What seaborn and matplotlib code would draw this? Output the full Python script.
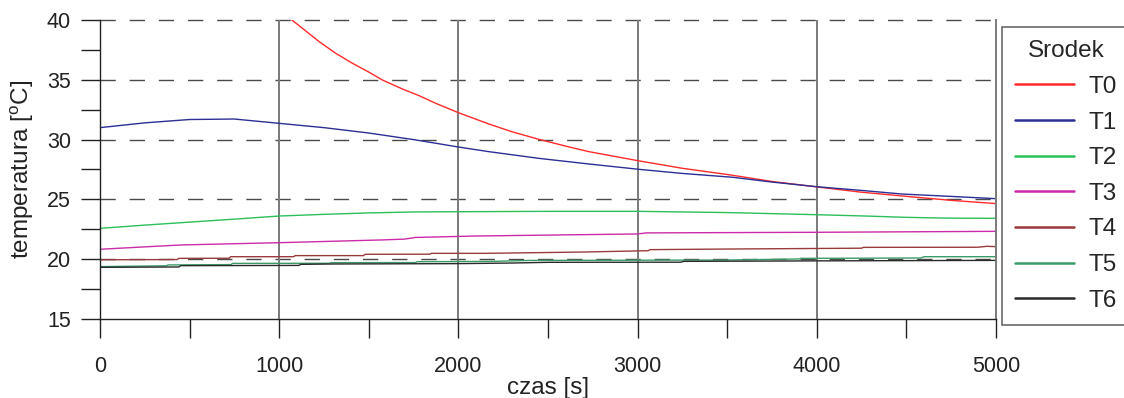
import numpy as np
import pandas as pd
import matplotlib
matplotlib.use("Agg")
import matplotlib.pyplot as plt
from matplotlib.ticker import MultipleLocator
import seaborn as sns

# ---------------- data ----------------
t0_time = [1000, 1071, 1130, 1223, 1316, 1409, 1502, 1576, 1688, 1781, 1874, 2000, 2171, 2300, 2450,
           2600, 2729, 2870, 3004, 3250, 3520, 3750, 4020, 4250, 4518, 4750, 5000]
t0_vals = [40.9, 40.0, 39.3, 38.19, 37.21, 36.38, 35.63, 34.98, 34.23, 33.67, 33.03, 32.25, 31.3, 30.65, 30.02,
           29.45, 28.99, 28.6, 28.23, 27.6, 27.04, 26.5, 26.01, 25.6, 25.23, 24.92, 24.65]

t1_time = [0, 250, 500, 750, 1000, 1250, 1500, 1750, 1892, 2000, 2171, 2450, 2729, 3004, 3250, 3531, 3750,
           4000, 4250, 4475, 4750, 5000]
t1_vals = [31.0, 31.4, 31.68, 31.72, 31.36, 31.0, 30.55, 30.0, 29.65, 29.38, 28.99, 28.43, 27.96, 27.52,
           27.17, 26.85, 26.45, 26.06, 25.75, 25.45, 25.25, 25.06]

t2_time = [0, 250, 500, 750, 1000, 1250, 1500, 1750, 2000, 2500, 3000, 3500, 4000, 4250, 4500, 4750, 5000]
t2_vals = [22.58, 22.85, 23.1, 23.35, 23.61, 23.75, 23.87, 23.95, 23.97, 24.0, 24.0, 23.9, 23.72, 23.62,
           23.5, 23.43, 23.42]

t3_time = [0, 450, 1000, 1570, 1700, 1760, 2100, 3000, 3050, 4000, 5000]
t3_vals = [20.83, 21.19, 21.38, 21.61, 21.68, 21.82, 21.94, 22.11, 22.2, 22.25, 22.33]

t4_time = [0, 430, 440, 720, 730, 1080, 1090, 1470, 1480, 1840, 1850, 2150, 2700, 3060, 3070, 3500,
           4250, 4260, 4900, 4950, 5000]
t4_vals = [19.95, 19.97, 20.07, 20.08, 20.21, 20.21, 20.30, 20.30, 20.41, 20.42, 20.49, 20.49, 20.6,
           20.71, 20.8, 20.85, 20.92, 20.99, 21.0, 21.08, 21.05]

t5_time = [0, 370, 380, 730, 740, 1280, 1290, 1760, 1770, 2200, 2400, 3500, 3900, 3910, 4580, 4600, 5000]
t5_vals = [19.38, 19.45, 19.52, 19.55, 19.65, 19.66, 19.71, 19.72, 19.79, 19.82, 19.9, 19.93, 20.02,
           20.07, 20.1, 20.21, 20.21]

t6_time = [0, 440, 450, 1110, 1120, 1300, 2000, 2300, 2500, 3240, 3260, 4000, 4500, 5000]
t6_vals = [19.32, 19.35, 19.46, 19.48, 19.57, 19.6, 19.63, 19.68, 19.74, 19.75, 19.82, 19.86, 19.88, 19.9]

series_names = ["T0", "T1", "T2", "T3", "T4", "T5", "T6"]
series_colors = ["#ff2a2a", "#2b2f96", "#2cbf5a", "#cc2aaa", "#9a3a3a", "#3a9a68", "#2a2a2a"]

legend_title = "Srodek"
x_label = "czas [s]"
y_label = "temperatura [$^{\\mathrm{o}}$C]"

# ---------------- build long table ----------------
times = [t0_time, t1_time, t2_time, t3_time, t4_time, t5_time, t6_time]
vals = [t0_vals, t1_vals, t2_vals, t3_vals, t4_vals, t5_vals, t6_vals]
frames = []
for name, tt, vv in zip(series_names, times, vals):
    frames.append(pd.DataFrame({"czas": tt, "temp": vv, "seria": name}))
df = pd.concat(frames, ignore_index=True)

# ---------------- style ----------------
sns.set_style("white")
plt.rcParams["font.family"] = ["Liberation Sans", "DejaVu Sans"]
plt.rcParams["mathtext.fontset"] = "custom"
plt.rcParams["mathtext.rm"] = "Liberation Sans"
plt.rcParams["mathtext.it"] = "Liberation Sans:italic"

fig = plt.figure(figsize=(11.24, 3.98), dpi=100)
ax = fig.add_axes([100 / 1124, 1 - 319 / 398, (996 - 100) / 1124, (319 - 20) / 398])

# grid lines first
for yv in [20, 25, 30, 35, 40]:
    ax.axhline(yv, color="#4a4a4a", lw=1.0, ls=(0, (11, 10)), zorder=0.5, clip_on=False)
for xv in [1000, 2000, 3000, 4000]:
    ax.axvline(xv, color="#7a7a7a", lw=1.4, zorder=0.5)

sns.lineplot(data=df, x="czas", y="temp", hue="seria", palette=dict(zip(series_names, series_colors)),
             estimator=None, sort=False, lw=1.0, ax=ax)

ax.set_xlim(0, 5000)
ax.set_ylim(15, 40)
ax.xaxis.set_major_locator(MultipleLocator(1000))
ax.xaxis.set_minor_locator(MultipleLocator(500))
ax.yaxis.set_major_locator(MultipleLocator(5))
ax.yaxis.set_minor_locator(MultipleLocator(2.5))
ax.tick_params(axis="both", which="both", direction="out", length=14, width=1.0, color="#222222",
               labelsize=15.5, labelcolor="#222222")
ax.tick_params(axis="x", which="both", pad=13, bottom=True)
ax.tick_params(axis="y", which="both", pad=7, left=True)

for side in ["left", "bottom"]:
    ax.spines[side].set_color("#222222")
    ax.spines[side].set_linewidth(1.0)
ax.spines["top"].set_visible(False)
ax.spines["right"].set_visible(True)
ax.spines["right"].set_color("#7a7a7a")
ax.spines["right"].set_linewidth(1.4)

ax.set_xlabel(x_label, fontsize=17.5, color="#222222", labelpad=-0.5)
ax.set_ylabel(y_label, fontsize=17.5, color="#222222", labelpad=8)

handles, labels = ax.get_legend_handles_labels()
ax.get_legend().remove()
for h in handles:
    h.set_linewidth(1.8)
leg = ax.legend(handles, labels, title=legend_title, loc="upper left",
                bbox_to_anchor=(1002 / 1124, 1 - 27 / 398), bbox_transform=fig.transFigure,
                frameon=True, fancybox=False, borderaxespad=0, fontsize=17.5, title_fontsize=17.5,
                handlelength=2.4, handletextpad=0.6, labelspacing=0.56, borderpad=0.55)
leg.get_frame().set_edgecolor("#444444")
leg.get_frame().set_linewidth(1.2)

fig.savefig("out.png", dpi=100)
